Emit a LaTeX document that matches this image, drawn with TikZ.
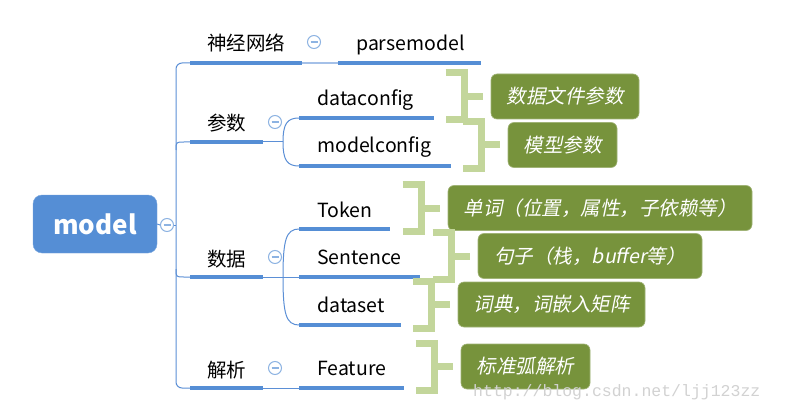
\documentclass[tikz,border=0pt]{standalone}
\usepackage{fontspec}
\setmainfont{Noto Sans CJK SC}
\newfontfamily\cjkit{Noto Sans CJK SC}[FakeSlant=0.2]
\newfontfamily\wmfont{Liberation Mono}
\definecolor{blueM}{HTML}{558ED5}
\definecolor{blueC}{HTML}{5B8FD6}
\definecolor{blueL}{HTML}{A4C0E8}
\definecolor{togc}{HTML}{8DB3E2}
\definecolor{greenD}{HTML}{77933C}
\definecolor{greenL}{HTML}{C3D69B}
\definecolor{wmc}{HTML}{D2D2D2}
\begin{document}
\begin{tikzpicture}[x=1pt,y=-1pt,
  lbl/.style={font=\fontsize{19.5}{22}\selectfont, inner sep=0, anchor=base west, text=black},
  clbl/.style={font=\fontsize{19.5}{22}\selectfont, inner sep=0, anchor=base, text=black},
  ul/.style={line width=4, draw=blueM, line cap=butt},
  conn/.style={line width=1, draw=blueC},
  tog/.style={circle, draw=togc, line width=1, fill=white, minimum size=13, inner sep=0,
    path picture={\draw[togc, line width=1.2] ([xshift=-3.5]path picture bounding box.center) -- ([xshift=3.5]path picture bounding box.center);}},
  rootbox/.style={fill=blueM, draw=blueM!80!white, rounded corners=9, minimum width=124, minimum height=58,
    text=white, font=\bfseries\fontsize{26}{30}\selectfont, inner sep=0},
  gbox/.style={fill=greenD, draw=greenD!70!white, line width=0.6, rounded corners=6, minimum height=45, text=white,
    font=\cjkit\fontsize{19.5}{22}\selectfont, inner sep=0},
  brc/.style={line width=7, draw=greenL, line cap=butt, line join=miter},
  gbrace/.pic={\draw[brc] (-45,-23.5) -- (-26.5,-23.5) -- (-26.5,23.5) -- (-45,23.5); \draw[brc] (-26.5,0) -- (-8,0);}
]
\useasboundingbox (0,0) rectangle (794,414);
\fill[white] (0,0) rectangle (794,414);

% root
\node[rootbox] (root) at (95,224) {model};
\node[tog] (rc) at (167,225) {};
\coordinate (trk) at (176,225);
\draw[conn] (root.east) -- (rc.west);
\draw[conn] (rc.east) -- (trk);

% underline coordinates
\coordinate (u1a) at (190,63);  \coordinate (u1b) at (302,63);
\coordinate (upa) at (338,63);  \coordinate (upb) at (481,63);
\coordinate (u2a) at (190,142); \coordinate (u2b) at (263,142);
\coordinate (uda) at (299,118); \coordinate (udb) at (434,118);
\coordinate (uma) at (299,166); \coordinate (umb) at (451,166);
\coordinate (u3a) at (190,277); \coordinate (u3b) at (263,277);
\coordinate (uta) at (299,229); \coordinate (utb) at (390,229);
\coordinate (usa) at (299,277); \coordinate (usb) at (420,277);
\coordinate (uxa) at (299,325); \coordinate (uxb) at (401,325);
\coordinate (u4a) at (190,388); \coordinate (u4b) at (263,388);
\coordinate (ufa) at (299,388); \coordinate (ufb) at (404,388);
\coordinate (s2) at (283,142);
\coordinate (s3) at (283,277);

% trunk
\draw[conn, rounded corners=6] (u1a) -- (176,63) -- (176,388) -- (u4a);
\draw[conn] (176,150) .. controls (176,142) .. (184,142) -- (u2a);
\draw[conn] (176,269) .. controls (176,277) .. (184,277) -- (u3a);

% first level labels
\node[clbl] (n1) at (246,51) {神经网络};
\node[clbl] (n2) at (226.5,131) {参数};
\node[clbl] (n3) at (226.5,266) {数据};
\node[clbl] (n4) at (226.5,377) {解析};

% second level labels
\node[lbl] (pm) at (356,51) {parsemodel};
\node[lbl] (dc) at (317,106) {dataconfig};
\node[lbl] (mc) at (317,153) {modelconfig};
\node[lbl] (tk) at (317,217) {Token};
\node[lbl] (st) at (317,264) {Sentence};
\node[lbl] (ds) at (317,312) {dataset};
\node[lbl] (ft) at (317,375) {Feature};

% connectors level 1 -> 2
\draw[line width=1.5, draw=blueL] (u1b) -- (upa);
\draw[conn] (u2b) -- (s2);
\draw[conn] (s2) .. controls (283,124) and (287,118) .. (uda);
\draw[conn] (s2) .. controls (283,160) and (287,166) .. (uma);
\draw[conn] (u3b) -- (usa);
\draw[conn] (s3) .. controls (283,240) and (286,229) .. (uta);
\draw[conn] (s3) .. controls (283,314) and (286,325) .. (uxa);
\draw[conn] (u4b) -- (ufa);

% underlines
\draw[ul] (u1a) -- (u1b);
\draw[ul] (upa) -- (upb);
\draw[ul] (u2a) -- (u2b);
\draw[ul] (uda) -- (udb);
\draw[ul] (uma) -- (umb);
\draw[ul] (u3a) -- (u3b);
\draw[ul] (uta) -- (utb);
\draw[ul] (usa) -- (usb);
\draw[ul] (uxa) -- (uxb);
\draw[ul] (u4a) -- (u4b);
\draw[ul] (ufa) -- (ufb);

% toggles
\node[tog] (t1) at (314,42) {};
\node[tog] (t2) at (275,122) {};
\node[tog] (t3) at (275,257) {};
\node[tog] (t4) at (275,368) {};

% green boxes
\node[gbox, minimum width=148] (g1) at (565,96.5) {数据文件参数};
\node[gbox, minimum width=109] (g2) at (562.5,145) {模型参数};
\node[gbox, minimum width=304] (g3) at (600,208) {单词（位置，属性，子依赖等）};
\node[gbox, minimum width=224] (g4) at (590,256) {句子（栈，buffer等）};
\node[gbox, minimum width=187] (g5) at (551.5,304.5) {词典，词嵌入矩阵};
\node[gbox, minimum width=129] (g6) at (525.5,366.5) {标准弧解析};

% braces
\pic at (g1.west) {gbrace};
\pic at (g2.west) {gbrace};
\pic at (g3.west) {gbrace};
\pic at (g4.west) {gbrace};
\pic at (g5.west) {gbrace};
\pic at (g6.west) {gbrace};

% watermark
\node[font=\wmfont\fontsize{16.5}{18}\selectfont, text=wmc, anchor=base west, inner sep=0] (wm) at (473,396) {http://blog.csdn.net/ljj123zz};
\end{tikzpicture}
\end{document}
